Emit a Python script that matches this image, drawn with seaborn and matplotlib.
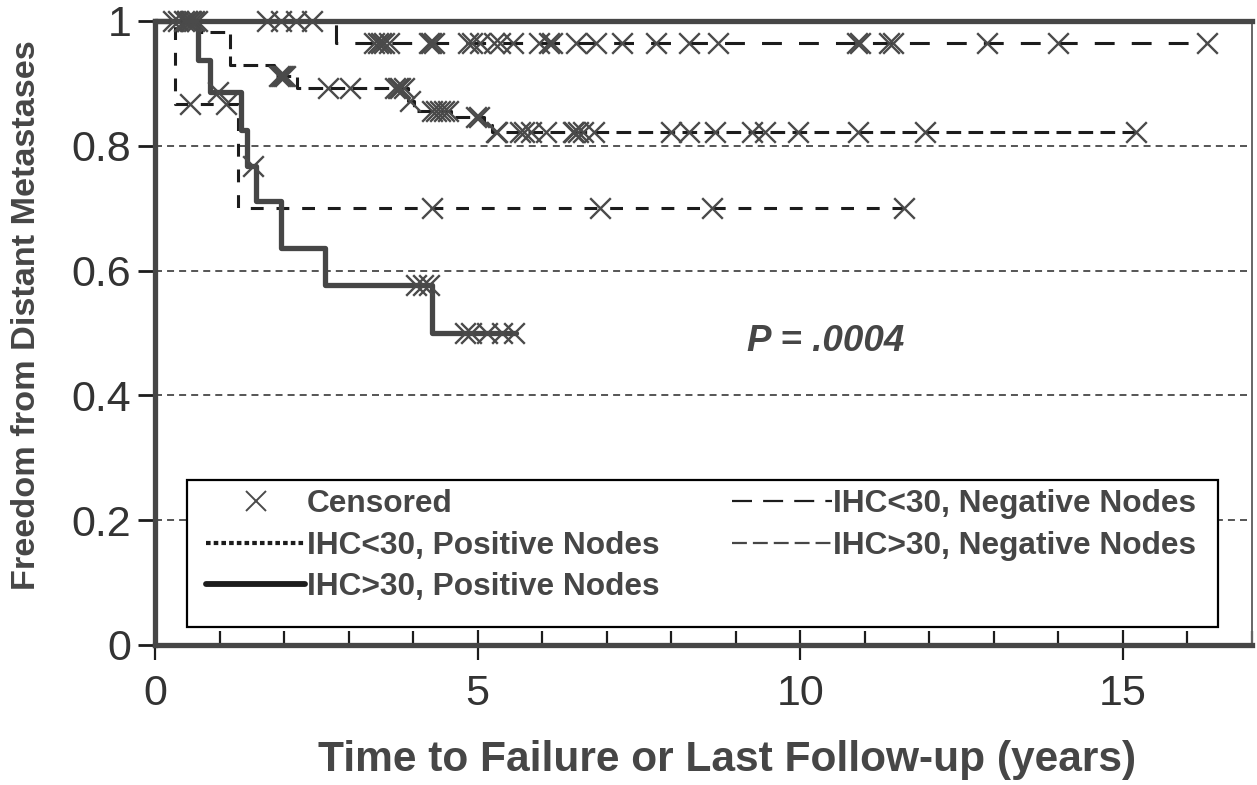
import numpy as np
import pandas as pd
import matplotlib
matplotlib.use("Agg")
import matplotlib.pyplot as plt
import seaborn as sns
from matplotlib.lines import Line2D
from matplotlib.patches import Rectangle
from matplotlib.ticker import MultipleLocator, FixedLocator

# ---------------- data ----------------
group_names = ["IHC<30, Negative Nodes", "IHC>30, Negative Nodes",
               "IHC<30, Positive Nodes", "IHC>30, Positive Nodes"]

# IHC<30, Negative Nodes
neg_lo_times = [0.0, 2.8]
neg_lo_surv = [1.0, 0.965]
neg_lo_end = 16.3
neg_lo_censored = [0.35, 0.5, 0.6, 0.65, 1.73, 1.96, 2.19, 2.44, 3.4, 3.45, 3.5,
                   3.55, 3.62, 4.25, 4.28, 4.32, 4.85, 4.92, 5.03, 5.25, 5.35,
                   5.55, 5.95, 6.1, 6.15, 6.52, 6.83, 7.23, 7.77, 8.27, 8.73,
                   10.88, 10.93, 11.38, 11.43, 12.9, 14.0, 16.3]

# IHC>30, Negative Nodes
neg_hi_times = [0.0, 0.68, 1.16, 1.85, 2.2, 3.92, 4.02, 4.58, 5.1, 5.22]
neg_hi_surv = [1.0, 0.982, 0.93, 0.912, 0.893, 0.872, 0.855, 0.846, 0.834, 0.822]
neg_hi_end = 15.2
neg_hi_censored = [0.45, 0.55, 1.92, 1.95, 1.98, 2.01, 2.68, 3.02, 3.72, 3.76,
                   3.8, 3.86, 3.95, 4.3, 4.36, 4.42, 4.48, 4.54, 4.98, 5.02,
                   5.28, 5.3, 5.65, 5.72, 5.83, 6.06, 6.47, 6.5, 6.55, 6.63,
                   6.8, 8.0, 8.27, 8.68, 9.25, 9.45, 9.97, 10.9, 11.93, 15.2]

# IHC<30, Positive Nodes
pos_lo_times = [0.0, 0.31, 1.29]
pos_lo_surv = [1.0, 0.867, 0.70]
pos_lo_end = 11.6
pos_lo_censored = [0.28, 0.55, 1.1, 4.3, 6.9, 8.63, 11.6]

# IHC>30, Positive Nodes
pos_hi_times = [0.0, 0.67, 0.85, 1.33, 1.42, 1.56, 1.96, 2.63, 4.3]
pos_hi_surv = [1.0, 0.937, 0.886, 0.825, 0.768, 0.712, 0.637, 0.577, 0.50]
pos_hi_end = 5.6
pos_hi_censored = [0.5, 0.56, 0.98, 1.52, 4.05, 4.15, 4.25, 4.8, 4.9, 5.15,
                   5.38, 5.56]

x_ticks = [0, 5, 10, 15]
y_ticks = [0, 0.2, 0.4, 0.6, 0.8, 1.0]
y_tick_labels = ["0", "0.2", "0.4", "0.6", "0.8", "1"]
p_text = "P = .0004"

# ---------------- style ----------------
sns.set_style("white")
plt.rcParams["font.family"] = ["Liberation Sans", "DejaVu Sans"]

DARK = "#464646"
INK = "#1c1c1c"
MARK = "#4a4a4a"

groups = [
    (group_names[0], neg_lo_times, neg_lo_surv, neg_lo_end, neg_lo_censored,
     dict(color=INK, lw=2.2, ls=(0, (6.5, 5.6))),
     dict(color=INK, lw=1.6, ls=(0, (9, 5)))),
    (group_names[1], neg_hi_times, neg_hi_surv, neg_hi_end, neg_hi_censored,
     dict(color=INK, lw=2.2, ls=(0, (4.8, 2.4))),
     dict(color=DARK, lw=1.6, ls=(0, (6.7, 2.7)))),
    (group_names[2], pos_lo_times, pos_lo_surv, pos_lo_end, pos_lo_censored,
     dict(color=INK, lw=2.2, ls=(0, (4.2, 4.2))),
     dict(color=INK, lw=3.0, ls=(0, (1.1, 0.75)))),
    (group_names[3], pos_hi_times, pos_hi_surv, pos_hi_end, pos_hi_censored,
     dict(color=DARK, lw=3.8, ls="-"),
     dict(color=INK, lw=4.2, ls="-")),
]

fig = plt.figure(figsize=(12.57, 7.85), dpi=100)
ax = fig.add_axes([155 / 1257, 1 - 645 / 785, 1097 / 1257, 624 / 785])

# grid lines
for yv in y_ticks[1:-1]:
    ax.axhline(yv, color="#555555", lw=1.4, ls=(0, (3.6, 2.6)), zorder=1)

handles = {}
for name, times, surv, end, cens, st, lst in groups:
    t = np.array(times + [end])
    s = np.array(surv + [surv[-1]])
    df = pd.DataFrame({"time": t, "surv": s})
    sns.lineplot(data=df, x="time", y="surv", drawstyle="steps-post",
                 estimator=None, sort=False, color=st["color"], lw=st["lw"],
                 linestyle=st["ls"], ax=ax, zorder=2, legend=False,
                 clip_on=False)
    ct = np.array(cens)
    idx = np.searchsorted(np.array(times), ct, side="right") - 1
    cy = np.array(surv)[idx]
    sns.scatterplot(x=ct, y=cy, marker="x", s=220, color=MARK, linewidth=1.7,
                    ax=ax, zorder=4, clip_on=False, legend=False)
    handles[name] = Line2D([], [], color=lst["color"], lw=lst["lw"],
                           linestyle=lst["ls"])

ax.set_xlim(0, 17)
ax.set_ylim(0, 1)

# spines
for side in ["left", "bottom", "top"]:
    ax.spines[side].set_color(DARK)
    ax.spines[side].set_linewidth(3.8)
    ax.spines[side].set_zorder(3)
ax.spines["right"].set_color("#666666")
ax.spines["right"].set_linewidth(1.4)

# ticks
ax.xaxis.set_major_locator(FixedLocator(x_ticks))
ax.xaxis.set_minor_locator(MultipleLocator(1))
ax.set_yticks(y_ticks)
ax.set_yticklabels(y_tick_labels)
ax.tick_params(axis="x", which="major", direction="inout", length=22, width=1.6,
               color=INK, labelsize=31, labelcolor="#333333", pad=10,
               bottom=True)
ax.tick_params(axis="x", which="minor", direction="in", length=10, width=1.6,
               color=INK, bottom=True)
ax.tick_params(axis="y", which="major", direction="out", length=12, width=2,
               color=INK, labelsize=31, labelcolor="#333333", pad=5, left=True)

ax.set_xlabel("Time to Failure or Last Follow-up (years)", fontsize=30.6,
              fontweight="bold", color=DARK, va="center")
ax.xaxis.set_label_coords((727 - 155) / 1097, (645 - 760) / 624)
ax.set_ylabel("Freedom from Distant Metastases", fontsize=24.7,
              fontweight="bold", color=DARK, va="center")
ax.yaxis.set_label_coords((27 - 155) / 1097, (645 - 315) / 624)

ax.text(10.4, 0.487, p_text, fontsize=26.5, fontweight="bold", style="italic",
        color=DARK, ha="center", va="center")

# legend box
x0, x1 = (187 - 155) / 1097, (1218 - 155) / 1097
y0, y1 = (645 - 627) / 624, (645 - 480) / 624
ax.add_patch(Rectangle((x0, y0), x1 - x0, y1 - y0, transform=ax.transAxes,
                       facecolor="white", edgecolor="black", lw=1.6,
                       zorder=5))
cens_handle = Line2D([], [], color=MARK, marker="x", ls="none", ms=14, mew=1.4)
leg_handles = [cens_handle, handles[group_names[2]], handles[group_names[3]],
               handles[group_names[0]], handles[group_names[1]]]
leg_labels = ["Censored", group_names[2], group_names[3], group_names[0],
              group_names[1]]
leg = ax.legend(leg_handles, leg_labels, ncol=2, frameon=False,
                loc="upper left", bbox_to_anchor=(x0, y1 + 10 / 624),
                borderpad=0.1, handlelength=3.15, handletextpad=0.05,
                columnspacing=2.3, labelspacing=0.37,
                prop={"family": ["Liberation Sans"], "weight": "bold",
                      "size": 22.75})
leg.set_zorder(6)
for txt in leg.get_texts():
    txt.set_color(DARK)

fig.savefig("out.png", dpi=100)
